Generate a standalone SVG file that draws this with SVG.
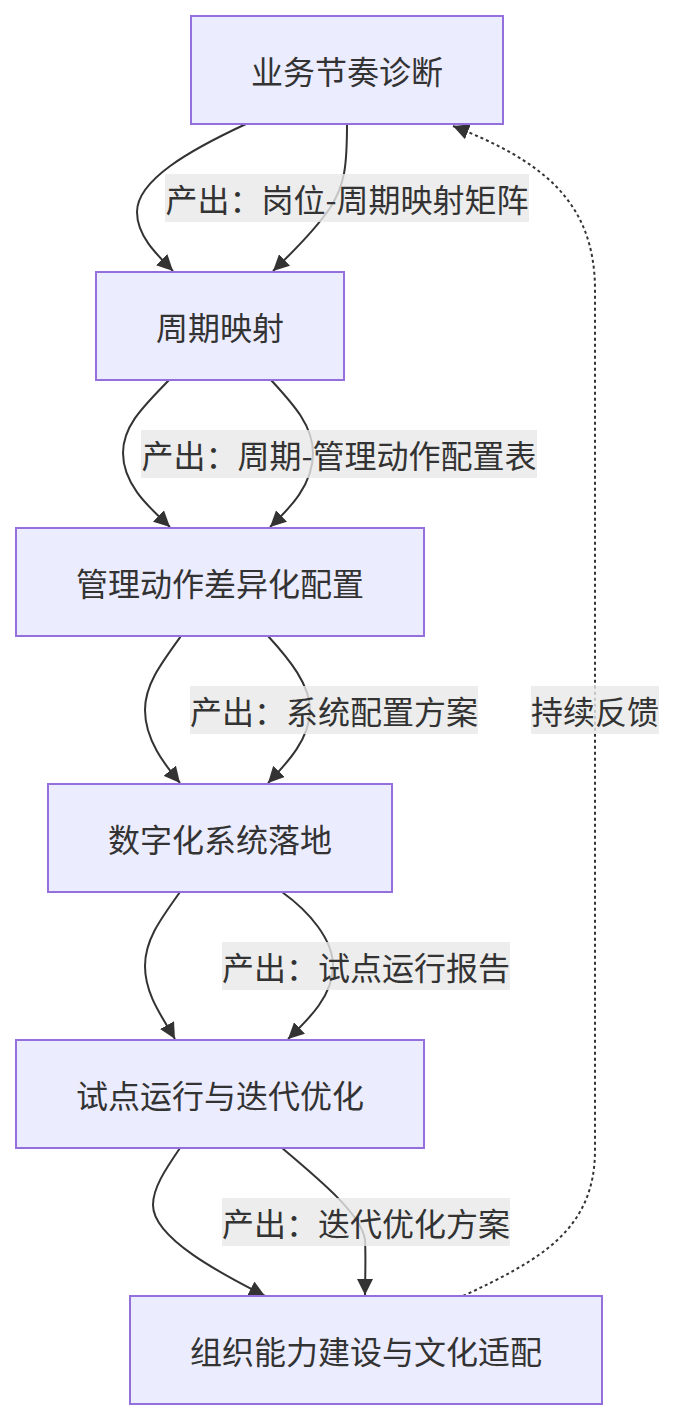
<svg xmlns="http://www.w3.org/2000/svg" width="674" height="1420" viewBox="0 0 674 1420">
<style>
.node rect{fill:#ECECFF;stroke:#9370DB;stroke-width:2}
.node text{font-family:"Noto Sans CJK SC","Liberation Sans",sans-serif;font-size:32px;fill:#333;text-anchor:middle;dominant-baseline:central}
.edge{fill:none;stroke:#333;stroke-width:2}
.dotted{stroke-dasharray:3 3}
.lbl rect{fill:rgba(232,232,232,0.8)}
.lbl text{font-family:"Noto Sans CJK SC","Liberation Sans",sans-serif;font-size:32px;fill:#333;text-anchor:middle;dominant-baseline:central}
</style>
<defs>
<marker id="arrow" viewBox="0 0 10 10" refX="10" refY="5" markerUnits="userSpaceOnUse" markerWidth="16" markerHeight="16" orient="auto">
<path d="M0,0 L10,5 L0,10 z" fill="#333"/>
</marker>
</defs>
<g id="connectors">
<path class="edge" d="M246,124 C190,150 137,180 137,212 C137,235 155,253 173,271" marker-end="url(#arrow)"/>
<path class="edge" d="M347,124 C347,165 345,185 330,208 C315,230 295,250 273,271" marker-end="url(#arrow)"/>
<path class="edge" d="M169,380 C145,405 123,425 123,453 C123,485 150,508 170,527" marker-end="url(#arrow)"/>
<path class="edge" d="M271,380 C292,403 313,425 313,453 C313,485 290,508 270,527" marker-end="url(#arrow)"/>
<path class="edge" d="M181,636 C160,665 145,685 145,710 C145,740 165,765 180,783" marker-end="url(#arrow)"/>
<path class="edge" d="M268,636 C290,660 310,685 310,710 C310,740 285,765 268,783" marker-end="url(#arrow)"/>
<path class="edge" d="M180,892 C160,920 145,940 145,966 C145,995 163,1018 175,1039" marker-end="url(#arrow)"/>
<path class="edge" d="M282,892 C310,912 333,940 333,966 C333,995 310,1018 288,1039" marker-end="url(#arrow)"/>
<path class="edge" d="M180,1148 C165,1170 153,1188 153,1205 C153,1240 230,1278 265,1296" marker-end="url(#arrow)"/>
<path class="edge" d="M282,1148 C320,1180 362,1215 365,1240 C366,1260 365,1280 365,1295" marker-end="url(#arrow)"/>
<path class="edge dotted" d="M463,1296 C540,1260 595,1230 595,1150 L595,290 C595,200 540,160 453,126" marker-end="url(#arrow)"/>
</g>
<g id="labels">
<g class="lbl"><rect x="165" y="174" width="364" height="48"/><text x="347" y="198">产出：岗位-周期映射矩阵</text></g>
<g class="lbl"><rect x="141" y="430" width="396" height="48"/><text x="339" y="454">产出：周期-管理动作配置表</text></g>
<g class="lbl"><rect x="190" y="686" width="288" height="48"/><text x="334" y="710">产出：系统配置方案</text></g>
<g class="lbl"><rect x="222" y="942" width="288" height="48"/><text x="366" y="966">产出：试点运行报告</text></g>
<g class="lbl"><rect x="222" y="1198" width="288" height="48"/><text x="366" y="1222">产出：迭代优化方案</text></g>
<g class="lbl"><rect x="531" y="686" width="128" height="48"/><text x="595" y="710">持续反馈</text></g>
</g>
<g id="n1" class="node"><rect x="191" y="16" width="312" height="108"/><text x="347" y="70">业务节奏诊断</text></g>
<g id="n2" class="node"><rect x="96" y="272" width="248" height="108"/><text x="220" y="326">周期映射</text></g>
<g id="n3" class="node"><rect x="16" y="528" width="408" height="108"/><text x="220" y="582">管理动作差异化配置</text></g>
<g id="n4" class="node"><rect x="48" y="784" width="344" height="108"/><text x="220" y="838">数字化系统落地</text></g>
<g id="n5" class="node"><rect x="16" y="1040" width="408" height="108"/><text x="220" y="1094">试点运行与迭代优化</text></g>
<g id="n6" class="node"><rect x="130" y="1296" width="472" height="108"/><text x="366" y="1350">组织能力建设与文化适配</text></g>
</svg>
